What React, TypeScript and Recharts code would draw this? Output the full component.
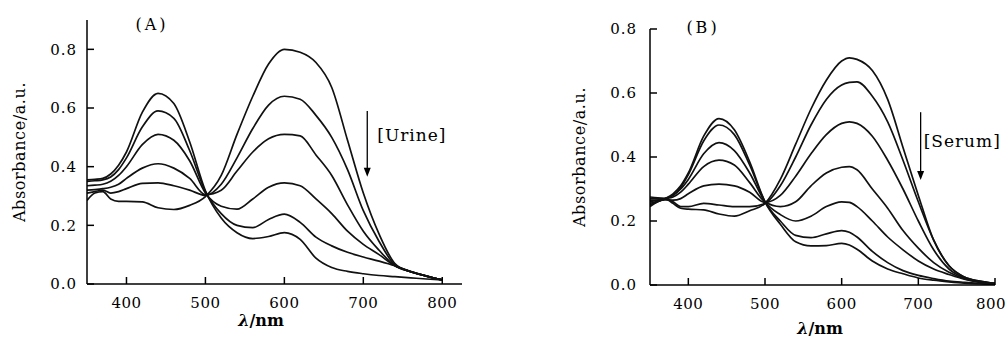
import React from 'react';
import { LineChart, Line, XAxis, YAxis, ReferenceLine } from 'recharts';

const SERIF = '"DejaVu Serif", "Liberation Serif", serif';

// Panel A: urine titration
const wavelengthsA = [350, 360, 370, 380, 390, 400, 420, 440, 460, 480, 500, 520, 540, 560, 580, 600, 620, 640, 660, 680, 700, 720, 740, 760, 780, 800];
const urine1 = [0.285, 0.31, 0.315, 0.29, 0.282, 0.282, 0.28, 0.26, 0.254, 0.268, 0.298, 0.37, 0.51, 0.64, 0.75, 0.8, 0.79, 0.755, 0.67, 0.49, 0.31, 0.17, 0.07, 0.042, 0.027, 0.014];
const urine2 = [0.31, 0.315, 0.32, 0.31, 0.315, 0.325, 0.343, 0.345, 0.335, 0.32, 0.302, 0.34, 0.43, 0.53, 0.61, 0.64, 0.63, 0.575, 0.5, 0.39, 0.25, 0.145, 0.065, 0.042, 0.027, 0.014];
const urine3 = [0.32, 0.322, 0.325, 0.33, 0.34, 0.36, 0.395, 0.41, 0.395, 0.36, 0.305, 0.32, 0.385, 0.45, 0.495, 0.51, 0.505, 0.44, 0.37, 0.27, 0.18, 0.115, 0.062, 0.042, 0.027, 0.014];
const urine4 = [0.335, 0.337, 0.34, 0.35, 0.37, 0.4, 0.475, 0.51, 0.49, 0.42, 0.31, 0.265, 0.255, 0.29, 0.33, 0.345, 0.335, 0.29, 0.24, 0.18, 0.135, 0.1, 0.062, 0.042, 0.027, 0.014];
const urine5 = [0.35, 0.352, 0.355, 0.365, 0.39, 0.43, 0.535, 0.59, 0.565, 0.455, 0.315, 0.24, 0.2, 0.192, 0.22, 0.238, 0.21, 0.16, 0.13, 0.108, 0.092, 0.078, 0.062, 0.042, 0.027, 0.014];
const urine6 = [0.355, 0.357, 0.36, 0.375, 0.405, 0.45, 0.585, 0.65, 0.615, 0.485, 0.318, 0.225, 0.175, 0.155, 0.162, 0.175, 0.152, 0.088, 0.056, 0.043, 0.035, 0.029, 0.025, 0.021, 0.017, 0.014];

// Panel B: serum titration
const wavelengthsB = [350, 360, 370, 380, 390, 400, 420, 440, 460, 480, 500, 520, 540, 560, 580, 600, 610, 620, 640, 660, 680, 700, 720, 740, 760, 780, 800];
const serum1 = [0.275, 0.272, 0.27, 0.255, 0.24, 0.237, 0.235, 0.222, 0.215, 0.232, 0.255, 0.33, 0.44, 0.55, 0.64, 0.7, 0.71, 0.705, 0.67, 0.58, 0.43, 0.28, 0.14, 0.06, 0.025, 0.012, 0.005];
const serum2 = [0.27, 0.27, 0.27, 0.26, 0.245, 0.245, 0.255, 0.25, 0.245, 0.245, 0.255, 0.31, 0.4, 0.5, 0.58, 0.625, 0.633, 0.635, 0.59, 0.51, 0.39, 0.26, 0.14, 0.06, 0.025, 0.012, 0.005];
const serum3 = [0.265, 0.265, 0.266, 0.265, 0.27, 0.285, 0.31, 0.315, 0.31, 0.29, 0.258, 0.28, 0.34, 0.41, 0.47, 0.505, 0.51, 0.505, 0.465, 0.39, 0.3, 0.2, 0.11, 0.05, 0.022, 0.01, 0.004];
const serum4 = [0.26, 0.265, 0.27, 0.275, 0.29, 0.315, 0.37, 0.39, 0.375, 0.32, 0.26, 0.245, 0.26, 0.31, 0.35, 0.368, 0.37, 0.36, 0.3, 0.24, 0.17, 0.115, 0.07, 0.04, 0.02, 0.01, 0.004];
const serum5 = [0.255, 0.262, 0.27, 0.28, 0.3, 0.33, 0.41, 0.445, 0.42, 0.35, 0.26, 0.22, 0.2, 0.215, 0.245, 0.26, 0.258, 0.245, 0.2, 0.15, 0.11, 0.075, 0.05, 0.033, 0.018, 0.008, 0.003];
const serum6 = [0.25, 0.26, 0.27, 0.28, 0.305, 0.345, 0.45, 0.5, 0.47, 0.375, 0.26, 0.2, 0.155, 0.148, 0.16, 0.17, 0.165, 0.15, 0.105, 0.07, 0.045, 0.03, 0.02, 0.012, 0.008, 0.005, 0.002];
const serum7 = [0.245, 0.26, 0.27, 0.285, 0.31, 0.35, 0.465, 0.52, 0.485, 0.385, 0.26, 0.19, 0.135, 0.122, 0.123, 0.13, 0.125, 0.112, 0.075, 0.05, 0.035, 0.022, 0.015, 0.01, 0.006, 0.004, 0.002];

const xTicks = [400, 500, 600, 700, 800];
const yTicks = [0, 0.2, 0.4, 0.6, 0.8];

const seriesA = [urine1, urine2, urine3, urine4, urine5, urine6];
const seriesB = [serum1, serum2, serum3, serum4, serum5, serum6, serum7];

function buildRows(wl: number[], series: number[][]) {
  return wl.map((w, i) => {
    const row: Record<string, number> = { wl: w };
    series.forEach((s, k) => {
      row['s' + k] = s[i];
    });
    return row;
  });
}

const dataA = buildRows(wavelengthsA, seriesA);
const dataB = buildRows(wavelengthsB, seriesB);

const tickStyle = { fill: '#000', fontSize: 15, fontFamily: SERIF, letterSpacing: 1 };

const makeXTick = (maxX: number) => (props: any) => {
  const { x, y, payload } = props;
  const cx = Math.min(x, maxX);
  return (
    <text x={cx} y={y} dy="0.71em" textAnchor="middle" fill="#000" fontSize={15} fontFamily={SERIF} letterSpacing={0.5}>
      {payload.value}
    </text>
  );
};

const makeArrow = (label: string, dx: number, dy: number) => (props: any) => {
  const { x1, y1, y2 } = props;
  const top = Math.min(y1, y2);
  const bot = Math.max(y1, y2);
  return (
    <g>
      <line x1={x1} y1={top} x2={x1} y2={bot - 6} stroke="#000" strokeWidth={1.3} />
      <path d={`M${x1 - 3.5},${bot - 9} L${x1 + 3.5},${bot - 9} L${x1},${bot} Z`} fill="#000" />
      <text x={x1 + dx} y={top + dy} fontFamily={SERIF} fontSize={17} fill="#000" letterSpacing={1} dominantBaseline="middle">
        {label}
      </text>
    </g>
  );
};

const yLabel = (cx: number, cy: number) => () => (
  <text x={cx} y={cy} transform={`rotate(-90 ${cx} ${cy})`} textAnchor="middle" dominantBaseline="middle" fontFamily={SERIF} fontSize={16} letterSpacing={0.6} fill="#000">
    Absorbance/a.u.
  </text>
);

const xLabel = (cx: number, baseline: number) => () => (
  <text x={cx} y={baseline} textAnchor="middle" fontFamily={SERIF} fontSize={16} fontWeight="bold" fill="#000">
    <tspan fontStyle="italic">λ</tspan>/nm
  </text>
);

const fmt = (v: number) => v.toFixed(1);

function Panel(props: {
  data: Record<string, number>[];
  count: number;
  width: number;
  yWidth: number;
  marginTop: number;
  marginRight: number;
  xDomain: [number, number];
  yDomain: [number, number];
  xAxisHeight: number;
  yTickMargin: number;
  yLab: [number, number];
  xLab: [number, number];
  title: string;
  titlePos: [number, number];
  maxTickX: number;
  arrow: { x: number; y1: number; y2: number; label: string; dx: number; dy: number };
}) {
  const p = props;
  return (
    <LineChart width={p.width} height={339} data={p.data} margin={{ top: p.marginTop, right: p.marginRight, left: 0, bottom: 0 }}>
      <XAxis
        dataKey="wl"
        type="number"
        domain={p.xDomain}
        ticks={xTicks}
        allowDataOverflow
        height={p.xAxisHeight}
        tickSize={-7}
        tickMargin={20}
        stroke="#000"
        strokeWidth={1.5}
        tickLine={{ stroke: '#000', strokeWidth: 1.5 }}
        tick={makeXTick(p.maxTickX)}
        label={{ content: xLabel(p.xLab[0], p.xLab[1]) }}
      />
      <YAxis
        type="number"
        domain={p.yDomain}
        ticks={yTicks}
        allowDataOverflow
        width={p.yWidth}
        tickSize={-7}
        tickMargin={p.yTickMargin}
        tickFormatter={fmt}
        stroke="#000"
        strokeWidth={1.5}
        tickLine={{ stroke: '#000', strokeWidth: 1.5 }}
        tick={tickStyle}
        label={{ content: yLabel(p.yLab[0], p.yLab[1]) }}
      />
      {Array.from({ length: p.count }).map((_, k) => (
        <Line
          key={k}
          dataKey={'s' + k}
          type="monotone"
          stroke="#111"
          strokeWidth={1.7}
          dot={false}
          activeDot={false}
          isAnimationActive={false}
        />
      ))}
      <ReferenceLine
        segment={[
          { x: p.arrow.x, y: p.arrow.y1 },
          { x: p.arrow.x, y: p.arrow.y2 },
        ]}
        shape={makeArrow(p.arrow.label, p.arrow.dx, p.arrow.dy)}
      />
      <text x={p.titlePos[0]} y={p.titlePos[1]} textAnchor="middle" fontFamily={SERIF} fontSize={16} letterSpacing={3} fill="#000">
        {p.title}
      </text>
    </LineChart>
  );
}

export default function App() {
  return (
    <div style={{ position: 'absolute', left: 0, top: 0, width: 1008, height: 339, background: '#fff' }}>
      <div style={{ position: 'absolute', left: 0, top: 0 }}>
        <Panel
          data={dataA}
          count={6}
          width={500}
          yWidth={87}
          marginTop={20}
          marginRight={38}
          xDomain={[350, 825]}
          yDomain={[0, 0.9]}
          xAxisHeight={55}
          yTickMargin={17}
          yLab={[20, 152]}
          xLab={[261, 326]}
          title="(A)"
          titlePos={[152, 30]}
          maxTickX={480}
          arrow={{ x: 705, y1: 0.59, y2: 0.366, label: '[Urine]', dx: 10, dy: 26 }}
        />
      </div>
      <div style={{ position: 'absolute', left: 520, top: 0 }}>
        <Panel
          data={dataB}
          count={7}
          width={488}
          yWidth={130}
          marginTop={29}
          marginRight={13}
          xDomain={[350, 800]}
          yDomain={[0, 0.8]}
          xAxisHeight={54}
          yTickMargin={20}
          yLab={[60, 157]}
          xLab={[300, 334]}
          title="(B)"
          titlePos={[183, 33]}
          maxTickX={471}
          arrow={{ x: 703, y1: 0.54, y2: 0.328, label: '[Serum]', dx: 3, dy: 30 }}
        />
      </div>
    </div>
  );
}
